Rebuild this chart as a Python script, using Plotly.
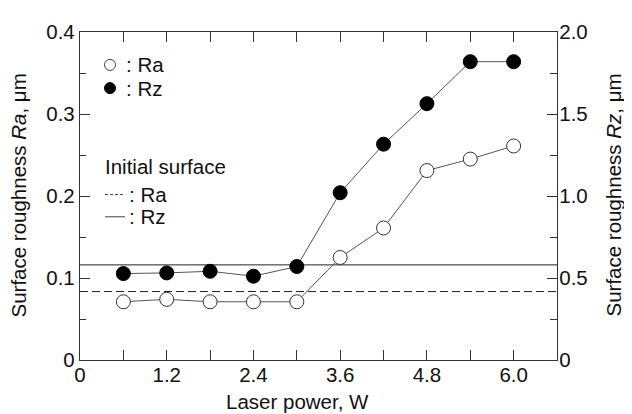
import plotly.graph_objects as go

# ---- data ----
laser_power = [0.6, 1.2, 1.8, 2.4, 3.0, 3.6, 4.2, 4.8, 5.4, 6.0]
ra_values = [0.071, 0.074, 0.071, 0.071, 0.071, 0.125, 0.161, 0.231, 0.245, 0.261]
rz_values = [0.527, 0.531, 0.541, 0.511, 0.570, 1.02, 1.316, 1.563, 1.819, 1.819]
initial_ra = 0.0835
initial_rz = 0.58

x_tickvals = [0, 1.2, 2.4, 3.6, 4.8, 6.0]
x_ticktext = ["0", "1.2", "2.4", "3.6", "4.8", "6.0"]
x_minor = [0.6, 1.8, 3.0, 4.2, 5.4]
y1_tickvals = [0, 0.1, 0.2, 0.3, 0.4]
y1_ticktext = ["0", "0.1", "0.2", "0.3", "0.4"]
y1_minor = [0.05, 0.15, 0.25, 0.35]
y2_tickvals = [0, 0.5, 1.0, 1.5, 2.0]
y2_ticktext = ["0", "0.5", "1.0", "1.5", "2.0"]
y2_minor = [0.25, 0.75, 1.25, 1.75]

FONT = "Liberation Sans, Arial, sans-serif"
FS = 20.5
AXC = "#333333"
OFF = 8  # page body margin
W, H = 632 - OFF, 414 - OFF
L, R, T, B = 80 - OFF, 75, 21 - OFF, 54
PW, PH = W - L - R, H - T - B


def px(x):  # page pixel -> paper
    return (x - OFF - L) / PW


def py(y):
    return (H - B - (y - OFF)) / PH


fig = go.Figure()

fig.add_trace(go.Scatter(
    x=laser_power, y=rz_values, yaxis="y2", mode="lines+markers",
    line=dict(color="#555555", width=1),
    marker=dict(size=14, color="black", line=dict(color="black", width=1)),
    showlegend=False, cliponaxis=False))
fig.add_trace(go.Scatter(
    x=laser_power, y=ra_values, yaxis="y", mode="lines+markers",
    line=dict(color="#555555", width=1),
    marker=dict(size=14, color="white", line=dict(color="#333333", width=1)),
    showlegend=False, cliponaxis=False))

shapes = [
    dict(type="line", xref="paper", x0=0, x1=1, yref="y", y0=initial_ra, y1=initial_ra,
         line=dict(color="#222222", width=1, dash="8px,4px"), layer="below"),
    dict(type="line", xref="paper", x0=0, x1=1, yref="y2", y0=initial_rz, y1=initial_rz,
         line=dict(color="#222222", width=1), layer="below"),
    # legend symbols
    dict(type="circle", xref="paper", yref="paper", xsizemode="pixel", ysizemode="pixel",
         xanchor=px(110), yanchor=py(55), x0=-5.5, x1=5.5, y0=-5.5, y1=5.5,
         line=dict(color="#444444", width=1), fillcolor="white"),
    dict(type="circle", xref="paper", yref="paper", xsizemode="pixel", ysizemode="pixel",
         xanchor=px(110), yanchor=py(79), x0=-5.5, x1=5.5, y0=-5.5, y1=5.5,
         line=dict(color="black", width=1), fillcolor="black"),
    dict(type="line", xref="paper", yref="paper", x0=px(105), x1=px(125), y0=py(189), y1=py(189),
         line=dict(color="#444444", width=1, dash="3px,2px")),
    dict(type="line", xref="paper", yref="paper", x0=px(105), x1=px(125), y0=py(212), y1=py(212),
         line=dict(color="#444444", width=1)),
]

tf = dict(family=FONT, size=FS, color="#111111")
annotations = [
    dict(text=": Ra", x=px(124), y=py(55), xref="paper", yref="paper", xanchor="left", yanchor="middle", showarrow=False, font=tf),
    dict(text=": Rz", x=px(124), y=py(79), xref="paper", yref="paper", xanchor="left", yanchor="middle", showarrow=False, font=tf),
    dict(text="Initial surface", x=px(103), y=py(160), xref="paper", yref="paper", xanchor="left", yanchor="middle", showarrow=False, font=tf),
    dict(text=": Ra", x=px(127), y=py(189), xref="paper", yref="paper", xanchor="left", yanchor="middle", showarrow=False, font=tf),
    dict(text=": Rz", x=px(127), y=py(212), xref="paper", yref="paper", xanchor="left", yanchor="middle", showarrow=False, font=tf),
    dict(text="Laser power, W", x=px(297), y=py(403), xref="paper", yref="paper", xanchor="center", yanchor="middle", showarrow=False, font=tf),
    dict(text="Surface roughness <i>Ra</i>, μm", x=px(19), y=py(190), xref="paper", yref="paper", xanchor="center", yanchor="middle", textangle=-90, showarrow=False, font=tf),
    dict(text="Surface roughness <i>Rz</i>, μm", x=px(614), y=py(190), xref="paper", yref="paper", xanchor="center", yanchor="middle", textangle=-90, showarrow=False, font=tf),
]

common = dict(showgrid=False, zeroline=False, showline=True, linecolor=AXC, linewidth=1.3,
              ticks="inside", ticklen=10, tickwidth=1, tickcolor=AXC, tickfont=tf)

fig.update_layout(
    width=W, height=H, margin=dict(l=L, r=R, t=T, b=B),
    paper_bgcolor="white", plot_bgcolor="white",
    font=dict(family=FONT, size=FS, color="#111111"),
    shapes=shapes, annotations=annotations,
    xaxis=dict(range=[0, 6.6], tickmode="array", tickvals=x_tickvals, ticktext=x_ticktext,
               mirror="allticks", ticklabelstandoff=-4,
               minor=dict(tickmode="array", tickvals=x_minor, ticks="inside", ticklen=5, tickcolor=AXC, tickwidth=1),
               **common),
    yaxis=dict(range=[0, 0.4], tickmode="array", tickvals=y1_tickvals, ticktext=y1_ticktext,
               minor=dict(tickmode="array", tickvals=y1_minor, ticks="inside", ticklen=6, tickcolor=AXC, tickwidth=1),
               **common),
    yaxis2=dict(range=[0, 2.0], overlaying="y", side="right", tickmode="array",
                tickvals=y2_tickvals, ticktext=y2_ticktext, ticklabelstandoff=-3,
                minor=dict(tickmode="array", tickvals=y2_minor, ticks="inside", ticklen=7, tickcolor=AXC, tickwidth=1),
                **common),
)

fig.write_html("out.html")
